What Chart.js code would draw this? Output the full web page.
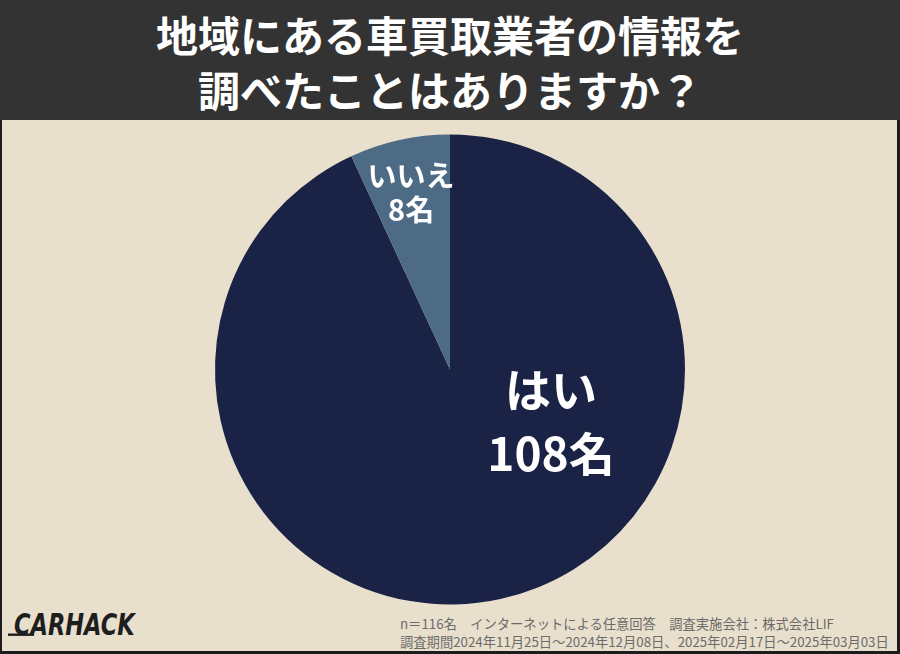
<!DOCTYPE html>
<html lang="ja">
<head>
<meta charset="utf-8">
<script src="https://cdn.jsdelivr.net/npm/chart.js@4/dist/chart.umd.min.js"></script>
<style>
  html, body { margin: 0; padding: 0; }
  body {
    width: 900px; height: 654px; overflow: hidden; position: relative;
    background: #1c1c1c;
    font-family: "Noto Sans CJK JP", "Noto Sans", sans-serif;
  }
  .header {
    position: absolute; left: 0; top: 0; width: 900px; height: 120px;
    background: #333333; color: #fff; text-align: center;
    font-weight: 700; font-size: 42px; line-height: 55px;
    padding-top: 6px; box-sizing: border-box;
  }
  .panel {
    position: absolute; left: 2px; top: 120px; width: 895px; height: 531px;
    background: #e8dfcc;
  }
  #chart { position: absolute; left: 0; top: 0; }
  .note {
    position: absolute; left: 400px; top: 615px;
    font-size: 13.3px; line-height: 18px; color: #6b6b6b; white-space: pre;
  }
  .logo {
    position: absolute; left: 14px; top: 610px;
    font-family: "DejaVu Sans Condensed", sans-serif; font-weight: 700;
    font-style: oblique; font-size: 25px; color: #1e1e1e;
    transform: scaleY(1.2);
  }
  .logo::before {
    content: ""; position: absolute; left: -6px; top: 22px; width: 26px; height: 2px;
    background: #1e1e1e;
  }
</style>
</head>
<body>
<div class="header">地域にある車買取業者の情報を<br>調べたことはありますか？</div>
<div class="panel"></div>
<div class="note">n＝116名　インターネットによる任意回答　調査実施会社：株式会社LIF
調査期間2024年11月25日～2024年12月08日、2025年02月17日～2025年03月03日</div>
<div class="logo">CARHACK</div>
<canvas id="chart" width="900" height="654"></canvas>
<script>
/* ================= DATA ================= */

const categories = ["はい", "いいえ"];
const counts = [108, 8];
const sliceColors = ["#1a2346", "#4d6b85"];

/* ================= LABEL PLUGIN ================= */

// label offset from the pie centre, as a fraction of the radius
const labelPlace = [
  { dx: 0.43, dy: 0.22, size: 46, gap: 64 },
  { mid: 0.77, size: 29, gap: 34 },
];

const sliceLabels = {
  id: "sliceLabels",
  afterDatasetsDraw(chart) {
    const { ctx } = chart;
    const arcs = chart.getDatasetMeta(0).data;
    ctx.save();
    ctx.fillStyle = "#ffffff";
    ctx.textAlign = "center";
    ctx.textBaseline = "middle";
    arcs.forEach((arc, i) => {
      const p = labelPlace[i];
      const r = arc.outerRadius;
      let x, y;
      if (p.mid) {
        const a = (arc.startAngle + arc.endAngle) / 2;
        x = arc.x + Math.cos(a) * r * p.mid;
        y = arc.y + Math.sin(a) * r * p.mid;
      } else {
        x = arc.x + p.dx * r;
        y = arc.y + p.dy * r;
      }
      ctx.font = `700 ${p.size}px "Noto Sans CJK JP", sans-serif`;
      ctx.fillText(categories[i], x, y - p.gap / 2);
      ctx.fillText(counts[i] + "名", x, y + p.gap / 2);
    });
    ctx.restore();
  },
};

/* ================= CHART ================= */

new Chart(document.getElementById("chart"), {
  type: "pie",
  data: {
    labels: categories,
    datasets: [{
      data: counts,
      backgroundColor: sliceColors,
      borderWidth: 0,
    }],
  },
  options: {
    responsive: false,
    animation: false,
    layout: { padding: { top: 134, bottom: 49, left: 215, right: 215 } },
    plugins: {
      legend: { display: false },
      tooltip: { enabled: false },
    },
  },
  plugins: [sliceLabels],
});
</script>
</body>
</html>
